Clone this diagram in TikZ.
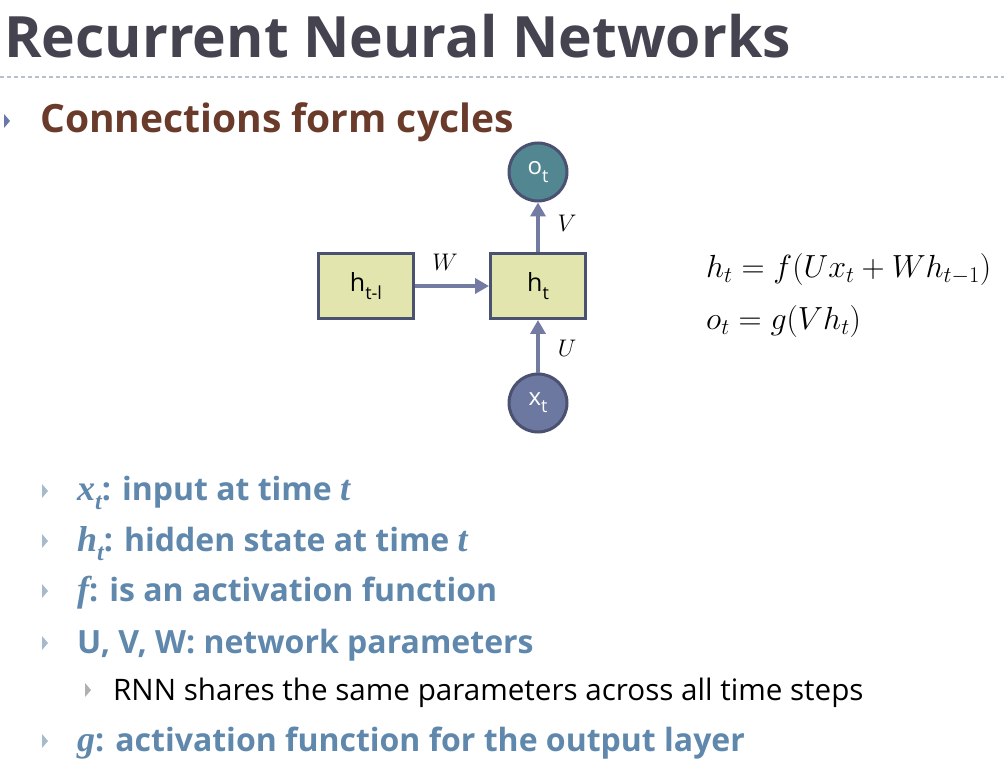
\documentclass[tikz,border=0pt]{standalone}
\usepackage{fix-cm}
\usepackage{amsmath}
\usepackage{fontspec}
\setmainfont{Open Sans}
\newfontfamily\bvfont{Liberation Serif}
\usetikzlibrary{arrows.meta}
\definecolor{titlecol}{HTML}{45434F}
\definecolor{browncol}{HTML}{6A3B2A}
\definecolor{bluetext}{HTML}{5F88AC}
\definecolor{boxfill}{HTML}{E2E6AE}
\definecolor{boxedge}{HTML}{4B5170}
\definecolor{tealfill}{HTML}{528791}
\definecolor{xfill}{HTML}{6C78A0}
\definecolor{arrcol}{HTML}{737BA3}
\definecolor{dashcol}{HTML}{B4C2D0}
\definecolor{bulA}{HTML}{6A78A8}
\definecolor{bulB}{HTML}{A6BACC}
\definecolor{bulC}{HTML}{B0B0B0}
\newcommand\sbt[1]{\raisebox{-0.3em}{\fontsize{18}{20}\selectfont #1}}
\newcommand\bvar[2]{{\bvfont\bfseries\itshape\fontsize{36}{40}\selectfont #1\ifx&#2&\else\raisebox{-0.25em}{\fontsize{24}{26}\selectfont #2}\fi}}
\tikzset{
  hbox/.style={draw=boxedge, fill=boxfill, line width=3pt, minimum width=95pt, minimum height=65pt, inner sep=0pt, font=\fontsize{25}{28}\selectfont},
  unit/.style={circle, draw=boxedge, line width=3pt, minimum size=58pt, inner sep=0pt, text=white, font=\fontsize{24}{28}\selectfont},
  conn/.style={draw=arrcol, line width=4pt, -{Triangle[length=14pt,width=15pt]}},
  wlabel/.style={font=\fontsize{24}{28}\selectfont, inner sep=0pt},
  bultext/.style={anchor=base west, inner sep=0pt, text=bluetext, font=\fontsize{32}{38}\selectfont\bfseries},
  subtext/.style={anchor=base west, inner sep=0pt, text=black, font=\fontsize{29.6}{34}\selectfont},
  eq/.style={anchor=base west, inner sep=0pt, font=\fontsize{32}{36}\selectfont}
}
\begin{document}
\begin{tikzpicture}[x=1pt,y=-1pt]
\useasboundingbox (0,0) rectangle (1004,767);
\fill[white] (0,0) rectangle (1004,767);
% title
\node[anchor=base west, inner sep=0pt, text=titlecol, font=\fontsize{57}{66}\selectfont\bfseries] (title) at (4,58) {Recurrent Neural Networks};
\draw[dashcol, line width=1.3pt, dash pattern=on 4pt off 3pt] (0,77) -- (1004,77);
% level-1 bullet
\fill[bulA] (4,114) -- (10,121) -- (4,128) -- cycle;
\node[anchor=base west, inner sep=0pt, text=browncol, font=\fontsize{39}{46}\selectfont\bfseries] (sub) at (40,133) {Connections form cycles};
% diagram
\node[hbox] (hprev) at (366,286) {h\sbt{t-l}};
\node[hbox] (ht) at (538,286) {h\sbt{t}};
\node[unit, fill=tealfill] (ot) at (538,172) {o\sbt{t}};
\node[unit, fill=xfill] (xt) at (538,403) {x\sbt{t}};
\draw[conn] (hprev.east) -- (ht.west);
\draw[conn] (ht.north) -- (ot.south);
\draw[conn] (xt.north) -- (ht.south);
\node[wlabel] (lw) at (445,262) {$W$};
\node[wlabel] (lv) at (567,223) {$V$};
\node[wlabel] (lu) at (567,348) {$U$};
% equations
\node[eq] (eq1) at (706,278) {$h_t = f(Ux_t + Wh_{t-1})$};
\node[eq] (eq2) at (706,330) {$o_t = g(Vh_t)$};
% bullets
\foreach \yy in {491,541,591,643,741} {\fill[bulB] (42,\yy-7) -- (48,\yy) -- (42,\yy+7) -- cycle;}
\fill[bulC] (85,683) -- (91,690) -- (85,697) -- cycle;
\node[bultext] (b1) at (77,500) {\bvar{x}{t}: input at time \bvar{t}{}};
\node[bultext] (b2) at (77,551) {\bvar{h}{t}: hidden state at time \bvar{t}{}};
\node[bultext] (b3) at (77,601) {\bvar{f}{}: is an activation function};
\node[bultext] (b4) at (77,653) {U, V, W: network parameters};
\node[subtext] (s1) at (113,700) {RNN shares the same parameters across all time steps};
\node[bultext] (b5) at (77,751) {\bvar{g}{}: activation function for the output layer};
\end{tikzpicture}
\end{document}
